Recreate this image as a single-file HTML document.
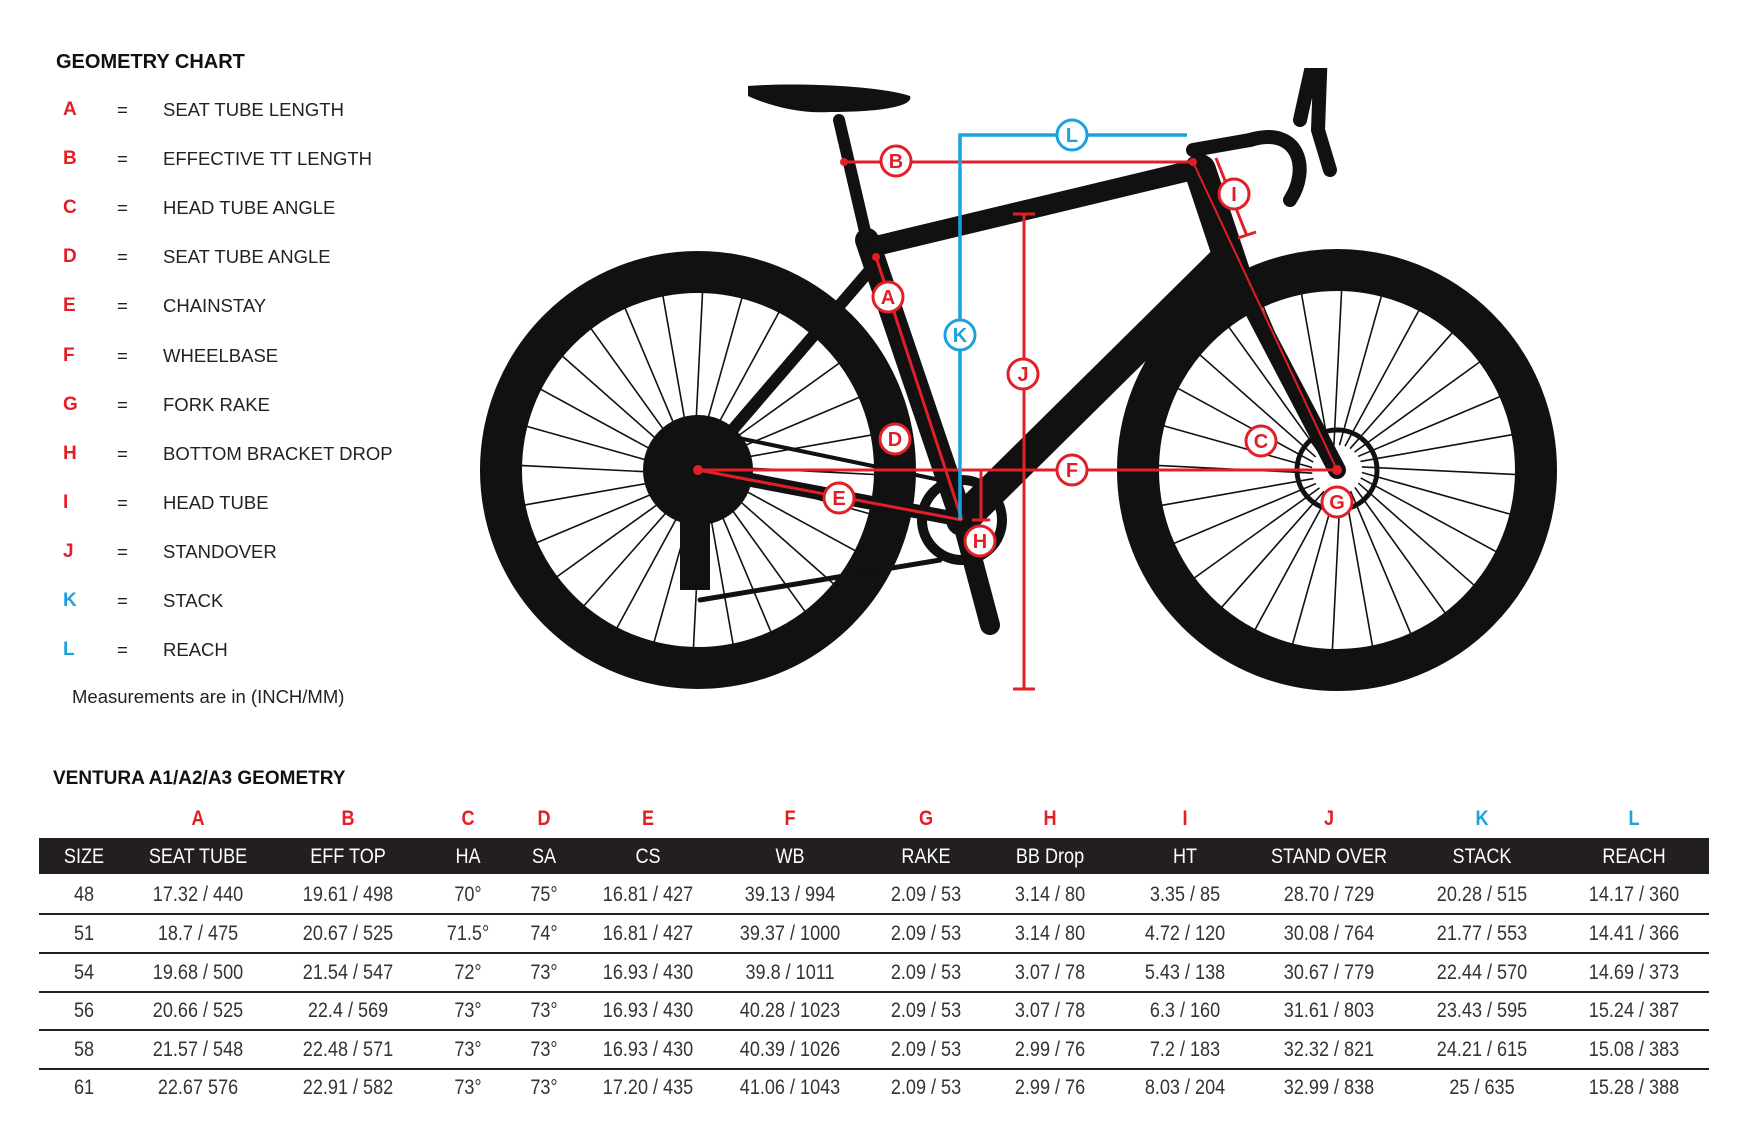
<!DOCTYPE html>
<html><head><meta charset="utf-8"><style>
body{margin:0;width:1756px;height:1134px;background:#fff;position:relative;overflow:hidden;font-family:"Liberation Sans",sans-serif;color:#222}
.a{position:absolute;white-space:nowrap}
.t{font-size:20px;font-weight:bold;color:#111}
.lg{font-size:18.5px;color:#222}
.lt{font-weight:bold;color:#e21f26;font-size:19px}
.c{position:absolute;transform:translate(-50%,-50%) scaleX(0.86);white-space:nowrap;font-size:21px}
</style></head><body>
<div class="a t" style="left:56px;top:51px">GEOMETRY CHART</div>
<div id="leg"></div>
<div class="a lg" style="left:72px;top:686px">Measurements are in (INCH/MM)</div>
<div class="a t" style="left:53px;top:768px;font-size:19px">VENTURA A1/A2/A3 GEOMETRY</div>
<div class="a" style="left:39px;top:838px;width:1670px;height:36px;background:#231f20"></div>
<div id="tb"></div>
<svg class="a" style="left:0;top:0" width="1756" height="1134" viewBox="0 0 1756 1134">
<g id="bike">
<ellipse cx="698" cy="470" rx="197" ry="198" fill="none" stroke="#111" stroke-width="42"/>
<ellipse cx="1337" cy="470" rx="199" ry="200" fill="none" stroke="#111" stroke-width="42"/>
<g id="sp" stroke="#111" stroke-width="1.6"></g>
<g stroke="#111" stroke-linecap="round" fill="none">
<line x1="867" y1="240" x2="962" y2="520" stroke-width="24"/>
<line x1="839" y1="120" x2="867" y2="240" stroke-width="12"/>
<line x1="880" y1="245" x2="1193" y2="170" stroke-width="20"/>
<line x1="1200" y1="170" x2="1235" y2="275" stroke-width="32"/>
<line x1="1225" y1="260" x2="962" y2="520" stroke-width="32"/>
<line x1="1235" y1="275" x2="1337" y2="470" stroke-width="18"/>
<line x1="870" y1="270" x2="698" y2="470" stroke-width="12"/>
<line x1="962" y1="520" x2="698" y2="470" stroke-width="14"/>
<line x1="962" y1="520" x2="990" y2="625" stroke-width="20"/>
<line x1="1193" y1="150" x2="1250" y2="140" stroke-width="14"/>
<path d="M1250 140 C1300 125 1310 170 1290 200" stroke-width="14"/>
<path d="M1300 120 L1310 75 L1320 75 L1318 130 L1330 170" stroke-width="14"/>
<path d="M700 430 L940 480" stroke-width="4"/>
<path d="M700 600 L940 560" stroke-width="5"/>
</g>
<path d="M748 86 C800 82 880 86 910 96 C915 108 870 112 830 112 C800 114 770 106 748 96 Z" fill="#111"/>
<circle cx="698" cy="470" r="55" fill="#111"/>
<circle cx="962" cy="520" r="40" fill="none" stroke="#111" stroke-width="10"/>
<circle cx="1337" cy="470" r="40" fill="none" stroke="#111" stroke-width="5"/>
<rect x="680" y="520" width="30" height="70" fill="#111"/>
</g>
<g stroke="#e21f26" stroke-width="3" fill="none">
<line x1="844" y1="162" x2="1193" y2="162"/>
<line x1="876" y1="257" x2="962" y2="520"/>
<line x1="698" y1="470" x2="1337" y2="470"/>
<line x1="698" y1="470" x2="962" y2="520"/>
<line x1="981" y1="470" x2="981" y2="520"/><line x1="972" y1="520" x2="990" y2="520"/>
<line x1="1024" y1="214" x2="1024" y2="689"/><line x1="1013" y1="214" x2="1035" y2="214"/><line x1="1013" y1="689" x2="1035" y2="689"/>
<line x1="1216" y1="158" x2="1247" y2="236"/><line x1="1238" y1="238" x2="1256" y2="232"/>
<line x1="1193" y1="162" x2="1337" y2="470" stroke-width="2"/>
</g>
<g fill="#e21f26"><circle cx="844" cy="162" r="4"/><circle cx="1193" cy="162" r="4"/><circle cx="876" cy="257" r="4"/><circle cx="698" cy="470" r="5"/><circle cx="1337" cy="470" r="5"/></g>
<g stroke="#1aa3dd" stroke-width="3.5" fill="none"><polyline points="1187,135 960,135 960,520"/></g>
<g id="lbl" font-family="Liberation Sans" font-size="20" text-anchor="middle"></g>
</svg>
<script>
var L=[["A","SEAT TUBE LENGTH"],["B","EFFECTIVE TT LENGTH"],["C","HEAD TUBE ANGLE"],["D","SEAT TUBE ANGLE"],["E","CHAINSTAY"],["F","WHEELBASE"],["G","FORK RAKE"],["H","BOTTOM BRACKET DROP"],["I","HEAD TUBE"],["J","STANDOVER"],["K","STACK"],["L","REACH"]];
var h="";
L.forEach(function(r,i){var y=110+i*49.1;var col=i>=10?"#1aa3dd":"#e21f26";
h+='<div class="a lt" style="left:63px;top:'+(y-11)+'px;color:'+col+'">'+r[0]+'</div><div class="a lg" style="left:117px;top:'+(y-11)+'px">=</div><div class="a lg" style="left:163px;top:'+(y-11)+'px">'+r[1]+'</div>';});
document.getElementById("leg").innerHTML=h;
var cx=[84,199,350,470,547,651,794,930,1055,1191,1335,1489,1642].map(function(x){return 39+(x-39)*0.995;});
var lets=["","A","B","C","D","E","F","G","H","I","J","K","L"];
var hd=["SIZE","SEAT TUBE","EFF TOP","HA","SA","CS","WB","RAKE","BB Drop","HT","STAND OVER","STACK","REACH"];
var rows=[["48","17.32 / 440","19.61 / 498","70°","75°","16.81 / 427","39.13 / 994","2.09 / 53","3.14 / 80","3.35 / 85","28.70 / 729","20.28 / 515","14.17 / 360"],
["51","18.7 / 475","20.67 / 525","71.5°","74°","16.81 / 427","39.37 / 1000","2.09 / 53","3.14 / 80","4.72 / 120","30.08 / 764","21.77 / 553","14.41 / 366"],
["54","19.68 / 500","21.54 / 547","72°","73°","16.93 / 430","39.8 / 1011","2.09 / 53","3.07 / 78","5.43 / 138","30.67 / 779","22.44 / 570","14.69 / 373"],
["56","20.66 / 525","22.4 / 569","73°","73°","16.93 / 430","40.28 / 1023","2.09 / 53","3.07 / 78","6.3 / 160","31.61 / 803","23.43 / 595","15.24 / 387"],
["58","21.57 / 548","22.48 / 571","73°","73°","16.93 / 430","40.39 / 1026","2.09 / 53","2.99 / 76","7.2 / 183","32.32 / 821","24.21 / 615","15.08 / 383"],
["61","22.67 576","22.91 / 582","73°","73°","17.20 / 435","41.06 / 1043","2.09 / 53","2.99 / 76","8.03 / 204","32.99 / 838","25 / 635","15.28 / 388"]];
var ry=[895,934,973,1011,1050,1088],t="";
cx.forEach(function(x,j){if(lets[j])t+='<div class="c" style="left:'+x+'px;top:819px;color:'+(j>=11?"#1aa3dd":"#e21f26")+';font-weight:bold">'+lets[j]+'</div>';
t+='<div class="c" style="left:'+x+'px;top:857px;color:#fff">'+hd[j]+'</div>';
rows.forEach(function(r,i){t+='<div class="c" style="left:'+x+'px;top:'+ry[i]+'px;color:#333">'+r[j]+'</div>';});});
[913,952,991,1029,1068].forEach(function(y){t+='<div class="a" style="left:39px;top:'+y+'px;width:1670px;height:2px;background:#231f20"></div>';});
document.getElementById("tb").innerHTML=t;
var s="";[[698,470,178],[1337,470,180]].forEach(function(w){for(var k=0;k<28;k++){var a=k*Math.PI*2/28+0.1;s+='<line x1="'+(w[0]+Math.cos(a)*25)+'" y1="'+(w[1]+Math.sin(a)*25)+'" x2="'+(w[0]+Math.cos(a+0.15)*w[2])+'" y2="'+(w[1]+Math.sin(a+0.15)*w[2])+'"/>';}});
document.getElementById("sp").innerHTML=s;
var lb=[["B",896,161],["L",1072,135],["K",960,335],["A",888,297],["D",895,439],["F",1072,470],["E",839,498],["H",980,541],["J",1023,374],["I",1234,194],["C",1261,441],["G",1337,502]],g="";
lb.forEach(function(b){var c=(b[0]=="K"||b[0]=="L")?"#1aa3dd":"#e21f26";g+='<circle cx="'+b[1]+'" cy="'+b[2]+'" r="15" fill="#fff" stroke="'+c+'" stroke-width="3"/><text x="'+b[1]+'" y="'+(b[2]+7)+'" fill="'+c+'" font-weight="bold">'+b[0]+'</text>';});
document.getElementById("lbl").innerHTML=g;
</script>
</body></html>
